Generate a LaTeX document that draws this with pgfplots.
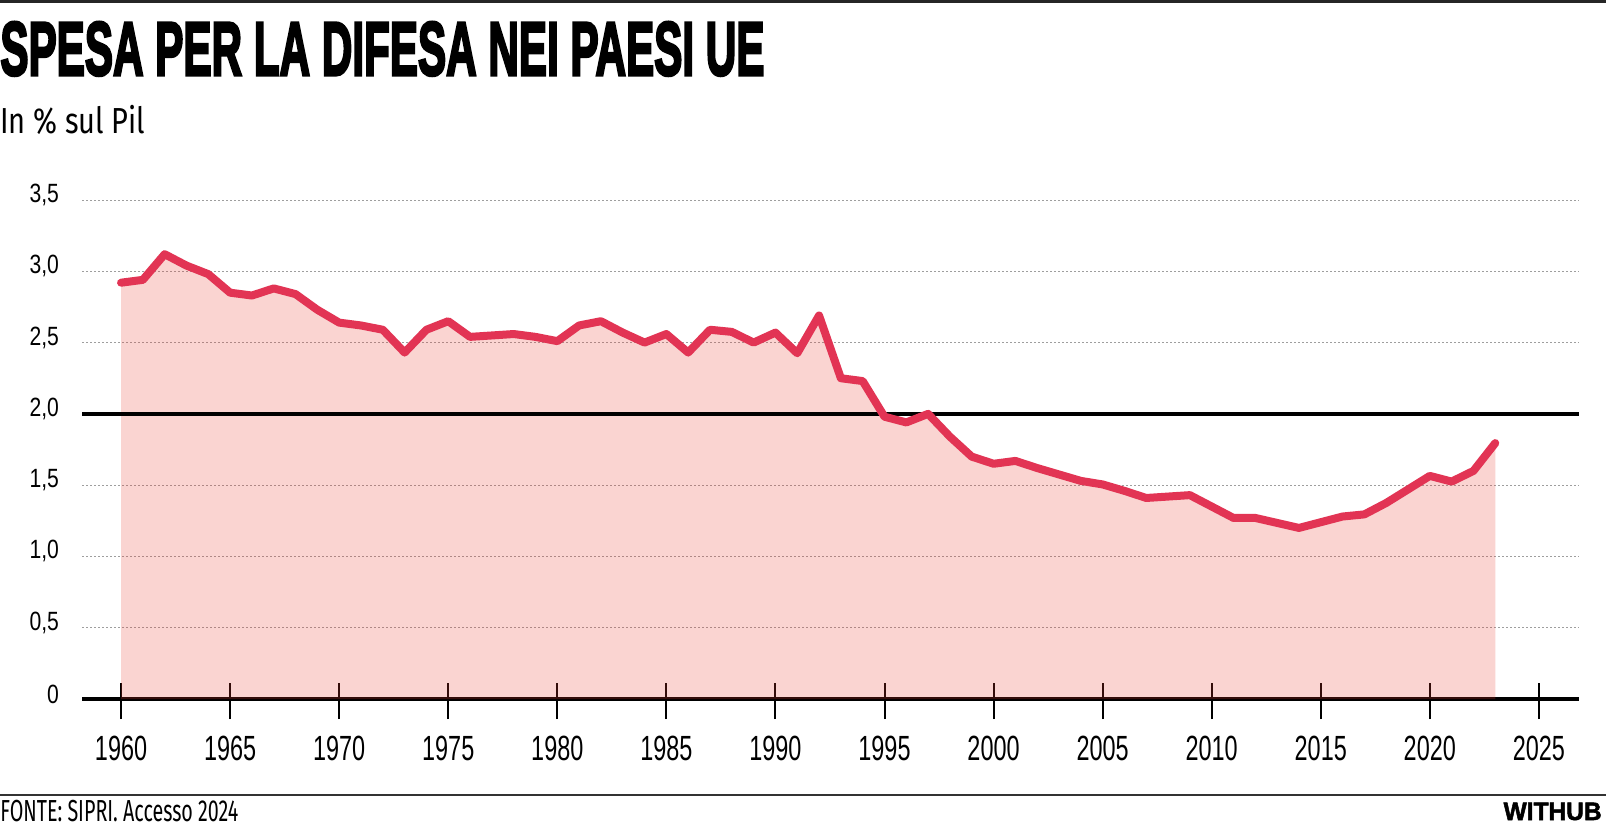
\documentclass[border=0pt]{standalone}
\usepackage{fontspec}
\usepackage{pgfplots}
\usepackage{graphicx}
\pgfplotsset{compat=1.18}
\setmainfont{Liberation Sans}
\newfontfamily\firafont{Fira Sans}
\newfontfamily\titlefont{Liberation Sans}[BoldFeatures={FakeBold=4}]
\newfontfamily\brandfont{Liberation Sans}[BoldFeatures={FakeBold=2}]
\definecolor{linecol}{RGB}{226,52,84}
\definecolor{fillbase}{RGB}{235,60,50}
\newcommand\xl[1]{\scalebox{0.67}[1]{#1}}
\newcommand\yl[1]{\scalebox{0.8}[1]{#1}}
\pgfplotstableread{
year val
1960 2.92
1961 2.94
1962 3.12
1963 3.04
1964 2.98
1965 2.85
1966 2.83
1967 2.88
1968 2.84
1969 2.73
1970 2.64
1971 2.62
1972 2.59
1973 2.43
1974 2.59
1975 2.65
1976 2.54
1977 2.55
1978 2.56
1979 2.54
1980 2.51
1981 2.62
1982 2.65
1983 2.57
1984 2.50
1985 2.56
1986 2.43
1987 2.59
1988 2.575
1989 2.50
1990 2.57
1991 2.425
1992 2.69
1993 2.25
1994 2.23
1995 1.98
1996 1.94
1997 2.00
1998 1.84
1999 1.70
2000 1.65
2001 1.67
2002 1.62
2003 1.575
2004 1.53
2005 1.505
2006 1.46
2007 1.41
2008 1.42
2009 1.43
2010 1.35
2011 1.27
2012 1.27
2013 1.235
2014 1.20
2015 1.24
2016 1.28
2017 1.295
2018 1.375
2019 1.47
2020 1.565
2021 1.525
2022 1.60
2023 1.795
}\datatable
\begin{document}
\begin{tikzpicture}[x=1pt,y=1pt]
\path[use as bounding box, fill=white] (0,0) rectangle (803,413.5);
% rules
\draw[line width=1.3pt, black!85] (0,412.6) -- (803,412.6);
\draw[line width=1pt, black!80] (0,16) -- (803,16);
% texts
\node[anchor=base west, inner sep=0pt] at (0,376) {\resizebox{382pt}{26.5pt}{\titlefont\bfseries SPESA PER LA DIFESA NEI PAESI UE}};
\node[anchor=base west, inner sep=0pt] at (0,347) {\resizebox{72.5pt}{\height}{\firafont\fontsize{18.1}{20}\selectfont In \% sul Pil}};
\node[anchor=base west, inner sep=0pt] at (0,2.8) {\resizebox{119pt}{\height}{\firafont\fontsize{15.2}{18}\selectfont FONTE: SIPRI. Accesso 2024}};
\node[anchor=base east, inner sep=0pt] at (801,3.5) {\resizebox{49pt}{\height}{\brandfont\bfseries\fontsize{12.6}{14}\selectfont WITHUB}};
\begin{axis}[
  at={(41pt,64pt)}, anchor=south west,
  scale only axis, width=748.5pt, height=249.5pt,
  xmin=1958.21, xmax=2026.84, ymin=0, ymax=3.5,
  axis lines*=left,
  y axis line style={draw=none},
  x axis line style={draw=black, line width=2pt},
  xtick={1960,1965,...,2025},
  xticklabels={\xl{1960},\xl{1965},\xl{1970},\xl{1975},\xl{1980},\xl{1985},\xl{1990},\xl{1995},\xl{2000},\xl{2005},\xl{2010},\xl{2015},\xl{2020},\xl{2025}},
  ytick={0,0.5,1,1.5,2,2.5,3,3.5},
  yticklabels={\yl{0},\yl{0,5},\yl{1,0},\yl{1,5},\yl{2,0},\yl{2,5},\yl{3,0},\yl{3,5}},
  tick align=center,
  major tick length=18pt,
  xtick style={draw=black, line width=1pt, yshift=-1pt},
  ytick style={draw=none},
  ymajorgrids,
  major grid style={draw=black!38, line width=0.5pt, dash pattern=on 1pt off 1pt},
  xticklabel style={font=\fontsize{17.5}{18}\selectfont, anchor=north, yshift=-6pt},
  yticklabel style={font=\fontsize{13.2}{15}\selectfont, anchor=east, xshift=1pt, yshift=2.5pt},
  clip=false,
]
\addplot[draw=none, fill=fillbase, fill opacity=0.22, forget plot] table[x=year, y=val] {\datatable} \closedcycle;
\addplot[black, line width=2pt, forget plot] coordinates {(1958.21,2) (2026.84,2)};
\addplot[linecol, line width=4pt, line join=round, line cap=round] table[x=year, y=val] {\datatable};
\end{axis}
\end{tikzpicture}
\end{document}
